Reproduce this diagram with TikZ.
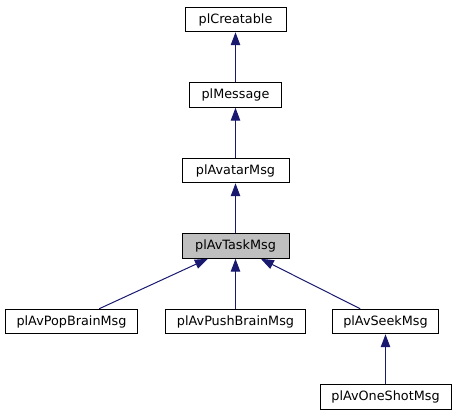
\documentclass[tikz,border=0pt]{standalone}
\usepackage{fontspec}
\setmainfont{DejaVu Sans}
\usetikzlibrary{arrows.meta, positioning}
\definecolor{edgeblue}{HTML}{191970}
\definecolor{basegray}{HTML}{BFBFBF}

\begin{document}
\begin{tikzpicture}[
    x=1pt, y=1pt,
    font=\fontsize{12.8}{15}\selectfont,
    cls/.style={rectangle, draw=black, fill=white, line width=1pt,
                minimum width=#1, minimum height=24.5pt, inner sep=0pt,
                text centered},
    cur/.style={cls=#1, fill=basegray},
    arr/.style={-{Triangle[length=13pt, width=9.5pt]}, edgeblue, line width=1pt},
    node distance=50pt and 27pt
  ]
  \useasboundingbox (0,0) rectangle (455,-411);

  \node[cls=101pt] at (235.5,-19.5)   (creatable) {plCreatable};
  \node[cls=92pt,  below=of creatable] (message)   {plMessage};
  \node[cls=107pt, below=of message]   (avatar)    {plAvatarMsg};
  \node[cur=107pt, below=of avatar]    (task)      {plAvTaskMsg};

  \node[cls=140pt, below=of task]      (push)      {plAvPushBrainMsg};
  \node[cls=132pt, left=of push]       (pop)       {plAvPopBrainMsg};
  \node[cls=106pt, right=26pt of push] (seek)      {plAvSeekMsg};
  \node[cls=131pt, below=of seek]      (oneshot)   {plAvOneShotMsg};

  \foreach \a/\b in {message/creatable, avatar/message, task/avatar,
                     pop/task, push/task, seek/task, oneshot/seek}
    \draw[arr] (\a) -- (\b);

\end{tikzpicture}
\end{document}
